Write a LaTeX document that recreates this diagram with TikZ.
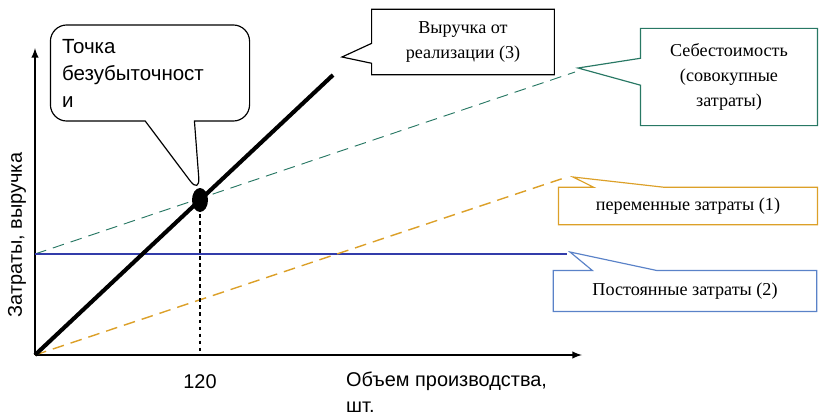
\documentclass[tikz,border=0pt]{standalone}
\usepackage{fontspec}
\setmainfont{Liberation Serif}
\newfontfamily\arialfont{Liberation Sans}
\usetikzlibrary{shapes.callouts}

\definecolor{costteal}{RGB}{40,120,100}
\definecolor{varorange}{RGB}{220,160,40}
\definecolor{fixblue}{RGB}{50,60,170}
\definecolor{boxblue}{RGB}{90,130,200}

\tikzset{
  px/.style={x=0.03cm, y=-0.03cm},
  callbox/.style={rectangle callout, draw, fill=white, align=center, inner sep=3pt,
    line width=1pt, font=\fontsize{15.5}{21}\selectfont},
  axislabel/.style={font=\arialfont\fontsize{17}{22}\selectfont}
}

\begin{document}
\begin{tikzpicture}[px]
        \useasboundingbox (0,0) rectangle (826,416);
        \coordinate (O) at (35,355);
        % axes
        \draw[line width=1.8pt, -latex] (O) -- (35,48);
        \draw[line width=1.8pt, -latex] (O) -- (582,355);
        % lines
        \draw[costteal, line width=0.8pt, dash pattern=on 10pt off 6pt] (35,254) -- (575,72);
        \draw[fixblue, line width=1.2pt] (35,254) -- (567,254);
        \draw[varorange, line width=1.2pt, dash pattern=on 10pt off 6pt] (O) -- (567,177);
        \draw[line width=3.5pt] (O) -- (333,75);
        \coordinate (bep) at (200,200);
        \fill (bep) ellipse (8 and 12);
        \draw[line width=1pt, dashed] (bep) -- (200,355);

        % labels
        \node[axislabel] (q120) at (200,382) {120};
        \node[axislabel, anchor=west, align=left] (xlab) at (342,392) {Объем производства,\\шт.};
        \node[axislabel, rotate=90] (ylab) at (17,235) {Затраты, выручка};

        % callouts
        \node[callbox, rounded corners=14pt, minimum width=170pt, minimum height=82pt,
          text width=150pt, align=left, font=\arialfont\fontsize{17.5}{23}\selectfont,
          callout absolute pointer={(200,194)}, callout pointer width=42pt] (bepbox) at (150,73)
          {Точка\\безубыточност\\и};
        \node[callbox, minimum width=156pt, minimum height=56pt,
          callout absolute pointer={(342,57)}, callout pointer width=17pt] (revbox) at (463,42)
          {Выручка от\\реализации (3)};
        \node[callbox, draw=costteal, minimum width=151pt, minimum height=83pt,
          callout absolute pointer={(578,68)}, callout pointer width=23pt] (costbox) at (729,77)
          {Себестоимость\\(совокупные\\затраты)};
        \node[callbox, draw=varorange, minimum width=221pt, minimum height=32pt,
          callout absolute pointer={(573,177)}, callout pointer width=60pt] (varbox) at (688,206)
          {переменные затраты (1)};
        \node[callbox, draw=boxblue, minimum width=225pt, minimum height=35pt,
          callout absolute pointer={(570,252)}, callout pointer width=55pt] (fixbox) at (685,291)
          {Постоянные затраты (2)};
\end{tikzpicture}
\end{document}
